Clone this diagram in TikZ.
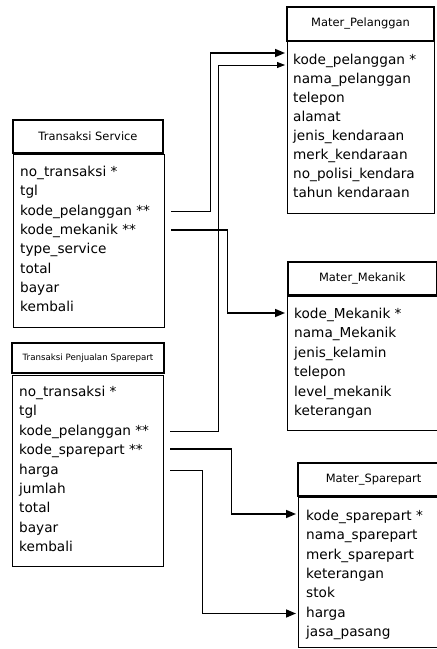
\documentclass[tikz,border=0pt]{standalone}
\usepackage{fontspec}
\setmainfont{DejaVu Sans}
\usetikzlibrary{arrows.meta,calc}

\begin{document}
\begin{tikzpicture}[
    x=1bp, y=-1bp,
    tablehead/.style={draw, line width=1.4bp, inner sep=0pt, font=\fontsize{11.5}{13}\selectfont},
    tablebody/.style={draw, line width=1.4bp, inner sep=0pt, anchor=north west},
    field/.style={anchor=west, inner sep=0pt, text height=10bp, text depth=3bp, font=\fontsize{13.7}{16}\selectfont},
    fkthick/.style={line width=1.6bp, -{Triangle[length=10bp,width=8bp]}},
    fkthin/.style={line width=0.8bp, -{Triangle[length=8bp,width=6bp]}}
]
    \fill[white] (0,0) rectangle (437,649);
    \useasboundingbox (0,0) rectangle (437,649);

    % Mater_Pelanggan
    \node[tablehead, minimum width=147bp, minimum height=34bp] (mp) at (360.5,24) {Mater\_Pelanggan};
    \node[tablebody, minimum width=147bp, minimum height=172bp] (mpb) at (287,41) {};
    \foreach \f [count=\i] in {kode\_pelanggan *, nama\_pelanggan, telepon, alamat, jenis\_kendaraan, merk\_kendaraan, no\_polisi\_kendara, tahun kendaraan} {
        \node[field] (mp\i) at (293,{61+19*(\i-1)}) {\f};
    }

    % Transaksi Service
    \node[tablehead, minimum width=150bp, minimum height=33bp] (ts) at (88,136.5) {Transaksi Service};
    \node[tablebody, minimum width=151bp, minimum height=173bp] (tsb) at (13,154) {};
    \foreach \f [count=\i] in {no\_transaksi *, tgl, kode\_pelanggan **, kode\_mekanik **, type\_service, total, bayar, kembali} {
        \node[field] (ts\i) at (20,{173+19.3*(\i-1)}) {\f};
    }

    % Mater_Mekanik
    \node[tablehead, minimum width=148.5bp, minimum height=33bp] (mm) at (362.25,278.5) {Mater\_Mekanik};
    \node[tablebody, minimum width=149.5bp, minimum height=134bp] (mmb) at (287,296) {};
    \foreach \f [count=\i] in {kode\_Mekanik *, nama\_Mekanik, jenis\_kelamin, telepon, level\_mekanik, keterangan} {
        \node[field] (mm\i) at (294,{315+19.4*(\i-1)}) {\f};
    }

    % Transaksi Penjualan Sparepart
    \node[tablehead, font=\fontsize{8.7}{10}\selectfont, minimum width=152bp, minimum height=30bp] (tjs) at (88,358) {Transaksi Penjualan Sparepart};
    \node[tablebody, minimum width=151bp, minimum height=191bp] (tjsb) at (12,375) {};
    \foreach \f [count=\i] in {no\_transaksi *, tgl, kode\_pelanggan **, kode\_sparepart **, harga, jumlah, total, bayar, kembali} {
        \node[field] (tjs\i) at (19,{393+19.4*(\i-1)}) {\f};
    }

    % Mater_Sparepart (runs past the right edge)
    \node[tablehead, minimum width=151bp, minimum height=33bp] (ms) at (373.5,479.5) {Mater\_Sparepart};
    \node[tablebody, minimum width=151bp, minimum height=150bp] (msb) at (298,497) {};
    \foreach \f [count=\i] in {kode\_sparepart *, nama\_sparepart, merk\_sparepart, keterangan, stok, harga, jasa\_pasang} {
        \node[field] (ms\i) at (306,{517+19.3*(\i-1)}) {\f};
    }

    % Relations
    \draw[fkthick] ($(tsb.east |- ts3)+(6,0)$) -- ++(39,0) |- ($(mpb.west |- mp1)+(-2,-8)$);
    \draw[fkthin] ($(tjsb.east |- tjs3)+(6,0)$) -- ++(48,0) |- ($(mpb.west |- mp1)+(-2,4)$);
    \draw[fkthick] ($(tsb.east |- ts4)+(6,-1)$) -- ++(56,0) |- ($(mmb.west |- mm1)+(-2,-2)$);
    \draw[fkthick] ($(tjsb.east |- tjs4)+(6,-2)$) -- ++(61,0) |- ($(msb.west |- ms1)+(-2,-3)$);
    \draw[fkthick] ($(tjsb.east |- tjs5)+(6,0)$) -- ++(32,0) |- ($(msb.west |- ms6)+(-2,0)$);
\end{tikzpicture}
\end{document}
